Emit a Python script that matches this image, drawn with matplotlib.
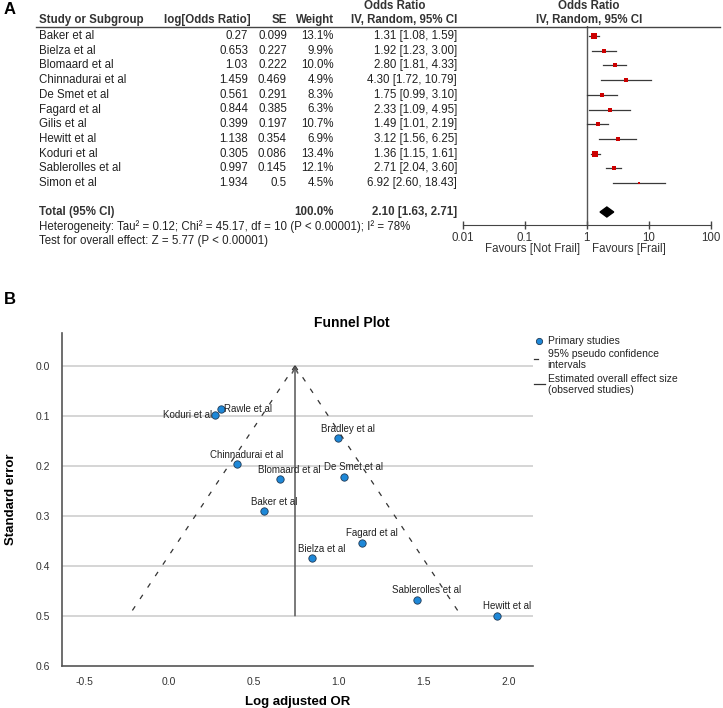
import numpy as np
import matplotlib
matplotlib.use("Agg")
import matplotlib.pyplot as plt
from matplotlib import font_manager as fm
from matplotlib.transforms import blended_transform_factory
from matplotlib.lines import Line2D

plt.rcParams['font.family'] = ['Liberation Sans', 'DejaVu Sans']
installed = {f.name for f in fm.fontManager.ttflist}
narrow = 'Liberation Sans Narrow' if 'Liberation Sans Narrow' in installed else 'Liberation Sans'

# ---- Panel A data (forest plot) ----
studies = ["Baker et al", "Bielza et al", "Blomaard et al", "Chinnadurai et al",
           "De Smet et al", "Fagard et al", "Gilis et al", "Hewitt et al",
           "Koduri et al", "Sablerolles et al", "Simon et al"]
log_or = [0.27, 0.653, 1.03, 1.459, 0.561, 0.844, 0.399, 1.138, 0.305, 0.997, 1.934]
se = [0.099, 0.227, 0.222, 0.469, 0.291, 0.385, 0.197, 0.354, 0.086, 0.145, 0.5]
weight = [13.1, 9.9, 10.0, 4.9, 8.3, 6.3, 10.7, 6.9, 13.4, 12.1, 4.5]
odds = [1.31, 1.92, 2.80, 4.30, 1.75, 2.33, 1.49, 3.12, 1.36, 2.71, 6.92]
ci_lo = [1.08, 1.23, 1.81, 1.72, 0.99, 1.09, 1.01, 1.56, 1.15, 2.04, 2.60]
ci_hi = [1.59, 3.00, 4.33, 10.79, 3.10, 4.95, 2.19, 6.25, 1.61, 3.60, 18.43]
total_weight = 100.0
total_or, total_lo, total_hi = 2.10, 1.63, 2.71
het_text = "Heterogeneity: Tau² = 0.12; Chi² = 45.17, df = 10 (P < 0.00001); I² = 78%"
effect_text = "Test for overall effect: Z = 5.77 (P < 0.00001)"
forest_ticks = [0.01, 0.1, 1, 10, 100]
forest_ticklabels = ["0.01", "0.1", "1", "10", "100"]

# ---- Panel B data (funnel plot) ----
funnel_labels = ["Rawle et al", "Koduri et al", "Bradley et al", "Chinnadurai et al",
                 "Blomaard et al", "De Smet et al", "Baker et al", "Fagard et al",
                 "Bielza et al", "Sablerolles et al", "Hewitt et al"]
funnel_x = [0.305, 0.27, 0.997, 0.399, 0.653, 1.03, 0.561, 1.138, 0.844, 1.459, 1.934]
funnel_se = [0.086, 0.099, 0.145, 0.197, 0.227, 0.222, 0.291, 0.354, 0.385, 0.469, 0.5]
x_ticks = [-0.5, 0.0, 0.5, 1.0, 1.5, 2.0]
y_ticks = [0.0, 0.1, 0.2, 0.3, 0.4, 0.5, 0.6]

W, H = 723, 708
fig = plt.figure(figsize=(W / 100, H / 100), dpi=100)


def fx(px):
    return px / W


def fy(py):
    return 1 - py / H


# ================= Panel A =================
row0, row_h = 36, 14.7   # pixel y of first row, row spacing


def rowy(py):
    return (py - row0) / row_h


ax_f = fig.add_axes([fx(462.7), fy(225), fx(711) - fx(462.7), fy(26) - fy(225)])
ax_f.set_xscale('log')
ax_f.set_xlim(0.01, 100)
ax_f.set_ylim(rowy(225), rowy(26))
for s in ['top', 'left', 'right']:
    ax_f.spines[s].set_visible(False)
ax_f.spines['bottom'].set_color('#444')
ax_f.set_yticks([])
ax_f.set_xticks(forest_ticks)
ax_f.set_xticklabels(forest_ticklabels)
ax_f.minorticks_off()
ax_f.tick_params(axis='x', direction='inout', length=6, width=1, color='#444',
                 labelsize=8.3, labelcolor='#333', pad=2)
ax_f.patch.set_alpha(0)
ax_f.axvline(1, color='#555', lw=1)

rows = np.arange(len(studies))
for i in rows:
    ax_f.plot([ci_lo[i], ci_hi[i]], [i, i], color='#3a3a3a', lw=0.9)
    ax_f.plot(odds[i], i, 's', color='#cc0000', ms=1.0 * np.sqrt(weight[i]), mew=0)

total_row = rowy(212)
dh = 0.34
ax_f.fill([total_lo, total_or, total_hi, total_or],
          [total_row, total_row - dh, total_row, total_row + dh], color='black')

tr = blended_transform_factory(fig.transFigure, ax_f.transData)
fs = 8.3
tc = '#222'
hc = '#333'

# headers
fig.text(fx(395), fy(6), "Odds Ratio", ha='center', va='center', fontsize=fs, weight='bold', color=hc)
fig.text(fx(589), fy(6), "Odds Ratio", ha='center', va='center', fontsize=fs, weight='bold', color=hc)
fig.text(fx(39), fy(20), "Study or Subgroup", ha='left', va='center', fontsize=fs, weight='bold', color=hc)
fig.text(fx(251), fy(20), "log[Odds Ratio]", ha='right', va='center', fontsize=fs, weight='bold', color=hc)
fig.text(fx(287), fy(20), "SE", ha='right', va='center', fontsize=fs, weight='bold', color=hc)
fig.text(fx(334), fy(20), "Weight", ha='right', va='center', fontsize=fs, weight='bold', color=hc)
fig.text(fx(457), fy(20), "IV, Random, 95% CI", ha='right', va='center', fontsize=fs, weight='bold', color=hc)
fig.text(fx(589), fy(20), "IV, Random, 95% CI", ha='center', va='center', fontsize=fs, weight='bold', color=hc)
fig.add_artist(Line2D([fx(36), fx(720)], [fy(27), fy(27)], transform=fig.transFigure, color='#444', lw=1))

for i in rows:
    fig.text(fx(39), i, studies[i], transform=tr, ha='left', va='center', fontsize=fs, color=tc)
    fig.text(fx(248), i, str(log_or[i]), transform=tr, ha='right', va='center', fontsize=fs, color=tc)
    fig.text(fx(287), i, str(se[i]), transform=tr, ha='right', va='center', fontsize=fs, color=tc)
    fig.text(fx(334), i, "%.1f%%" % weight[i], transform=tr, ha='right', va='center', fontsize=fs, color=tc)
    fig.text(fx(457), i, "%.2f [%.2f, %.2f]" % (odds[i], ci_lo[i], ci_hi[i]), transform=tr,
             ha='right', va='center', fontsize=fs, color=tc)

fig.text(fx(39), total_row, "Total (95% CI)", transform=tr, ha='left', va='center', fontsize=fs, weight='bold', color=hc)
fig.text(fx(334), total_row, "%.1f%%" % total_weight, transform=tr, ha='right', va='center', fontsize=fs, weight='bold', color=hc)
fig.text(fx(457), total_row, "%.2f [%.2f, %.2f]" % (total_or, total_lo, total_hi), transform=tr,
         ha='right', va='center', fontsize=fs, weight='bold', color=hc)
fig.text(fx(39), fy(227), het_text, ha='left', va='center', fontsize=fs, color=tc)
fig.text(fx(39), fy(241), effect_text, ha='left', va='center', fontsize=fs, color=tc)
fig.text(fx(533), fy(249), "Favours [Not Frail]", ha='center', va='center', fontsize=fs, color='#333')
fig.text(fx(629), fy(249), "Favours [Frail]", ha='center', va='center', fontsize=fs, color='#333')

fig.text(fx(4), fy(9), "A", ha='left', va='center', fontsize=12, weight='bold')
fig.text(fx(4), fy(300), "B", ha='left', va='center', fontsize=12, weight='bold')

# ================= Panel B =================
ax_b = fig.add_axes([fx(61.6), fy(665.7), fx(533) - fx(61.6), fy(333.3) - fy(665.7)])
ax_b.set_xlim(-0.635, 2.146)
ax_b.set_ylim(0.6, -0.065)
ax_b.set_xticks(x_ticks)
ax_b.set_xticklabels(["%.1f" % v for v in x_ticks])
ax_b.set_yticks(y_ticks)
ax_b.set_yticklabels(["%.1f" % v for v in y_ticks])
ax_b.tick_params(length=0, labelsize=7.5, labelcolor='#333', pad=8)
for lab in ax_b.get_xticklabels() + ax_b.get_yticklabels():
    lab.set_family(narrow)
for s in ['top', 'right']:
    ax_b.spines[s].set_visible(False)
for s in ['left', 'bottom']:
    ax_b.spines[s].set_color('#555')
    ax_b.spines[s].set_linewidth(1.2)
for v in y_ticks[:-1]:
    ax_b.axhline(v, color='#d2d2d2', lw=1.3, zorder=0)

pooled = np.log(total_or)
se_max = max(funnel_se)
ax_b.plot([pooled, pooled - 1.96 * se_max], [0, se_max], color='#333', lw=0.9, ls=(0, (4, 7)))
ax_b.plot([pooled, pooled + 1.96 * se_max], [0, se_max], color='#333', lw=0.9, ls=(0, (4, 7)))
ax_b.annotate("", xy=(pooled, 0), xytext=(pooled, se_max),
              arrowprops=dict(arrowstyle='->', color='#555', lw=1.1, shrinkA=0, shrinkB=0))

ax_b.scatter(funnel_x, funnel_se, s=28, color='#1e88d8', edgecolor='#203a55', linewidth=0.6, zorder=3)
side_labels = {"Rawle et al": (2, 0, 'left'), "Koduri et al": (-2, 0, 'right')}
for lab, xv, yv in zip(funnel_labels, funnel_x, funnel_se):
    dx, dy, ha = side_labels.get(lab, (7, 7, 'center'))
    ax_b.annotate(lab, (xv, yv), xytext=(dx, dy), textcoords='offset points',
                  ha=ha, va='center', fontsize=7, color='#222', family=narrow)

ax_b.set_xlabel("Log adjusted OR", fontsize=9.5, weight='bold', labelpad=12)
ax_b.set_ylabel("Standard error", fontsize=9.5, weight='bold', labelpad=14)
ax_b.xaxis.set_label_coords(0.5, -0.09)
fig.text(fx(352), fy(323), "Funnel Plot", ha='center', va='center', fontsize=10, weight='bold')

# legend drawn by hand
lfs = 7.5
fig.add_artist(Line2D([fx(539)], [fy(341)], transform=fig.transFigure, marker='o', ls='none',
                      ms=4.5, mfc='#1e88d8', mec='#203a55', mew=0.6))
fig.text(fx(547.5), fy(341), "Primary studies", ha='left', va='center', fontsize=lfs, color='#222')
fig.add_artist(Line2D([fx(534), fx(538)], [fy(359), fy(359)], transform=fig.transFigure, color='#333', lw=0.9))
fig.text(fx(547.5), fy(354), "95% pseudo confidence", ha='left', va='center', fontsize=lfs, color='#222')
fig.text(fx(547.5), fy(365), "intervals", ha='left', va='center', fontsize=lfs, color='#222')
fig.add_artist(Line2D([fx(534), fx(545)], [fy(384), fy(384)], transform=fig.transFigure, color='#333', lw=0.9))
fig.text(fx(547.5), fy(379), "Estimated overall effect size", ha='left', va='center', fontsize=lfs, color='#222')
fig.text(fx(547.5), fy(390), "(observed studies)", ha='left', va='center', fontsize=lfs, color='#222')

fig.savefig("out.png", dpi=100)
